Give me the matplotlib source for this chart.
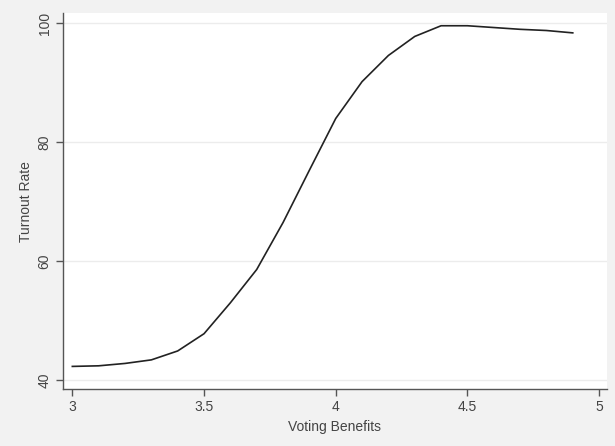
import numpy as np
import matplotlib
matplotlib.use('Agg')
import matplotlib.pyplot as plt

# values
benefits = [3.0, 3.1, 3.2, 3.3, 3.4, 3.5, 3.6, 3.7, 3.8, 3.9,
            4.0, 4.1, 4.2, 4.3, 4.4, 4.5, 4.6, 4.7, 4.8, 4.9]
turnout = [42.3, 42.4, 42.8, 43.4, 44.9, 47.8, 53.0, 58.6, 66.5, 75.3,
           84.0, 90.2, 94.6, 97.8, 99.6, 99.6, 99.3, 99.0, 98.8, 98.4]
xticks = [3, 3.5, 4, 4.5, 5]
xtick_labels = ['3', '3.5', '4', '4.5', '5']
yticks = [40, 60, 80, 100]

plt.rcParams['font.family'] = ['Liberation Sans', 'DejaVu Sans']

fig = plt.figure(figsize=(6.15, 4.46), dpi=100, facecolor='#f2f2f2')
ax = fig.add_axes([0.102, 0.127, 0.885, 0.843])
ax.set_facecolor('white')

ax.plot(benefits, turnout, color='#222222', linewidth=1.2)

ax.set_xlim(2.9635, 5.03)
ax.set_ylim(38.44, 101.68)
ax.set_xticks(xticks)
ax.set_xticklabels(xtick_labels)
ax.set_yticks(yticks)
ax.set_yticklabels([str(v) for v in yticks], rotation=90, va='center')

ax.grid(axis='y', color='#ececec', linewidth=1.0)
ax.set_axisbelow(True)

for side in ['top', 'right']:
    ax.spines[side].set_visible(False)
for side in ['left', 'bottom']:
    ax.spines[side].set_color('#555555')
    ax.spines[side].set_linewidth(1.0)

ax.tick_params(axis='both', colors='#555555', labelcolor='#444444',
               labelsize=10, length=5, width=1.0, pad=3)

ax.set_xlabel('Voting Benefits', fontsize=10, color='#444444', labelpad=4)
ax.set_ylabel('Turnout Rate', fontsize=10, color='#444444', labelpad=3)

fig.savefig('out.png', dpi=100, facecolor=fig.get_facecolor())
